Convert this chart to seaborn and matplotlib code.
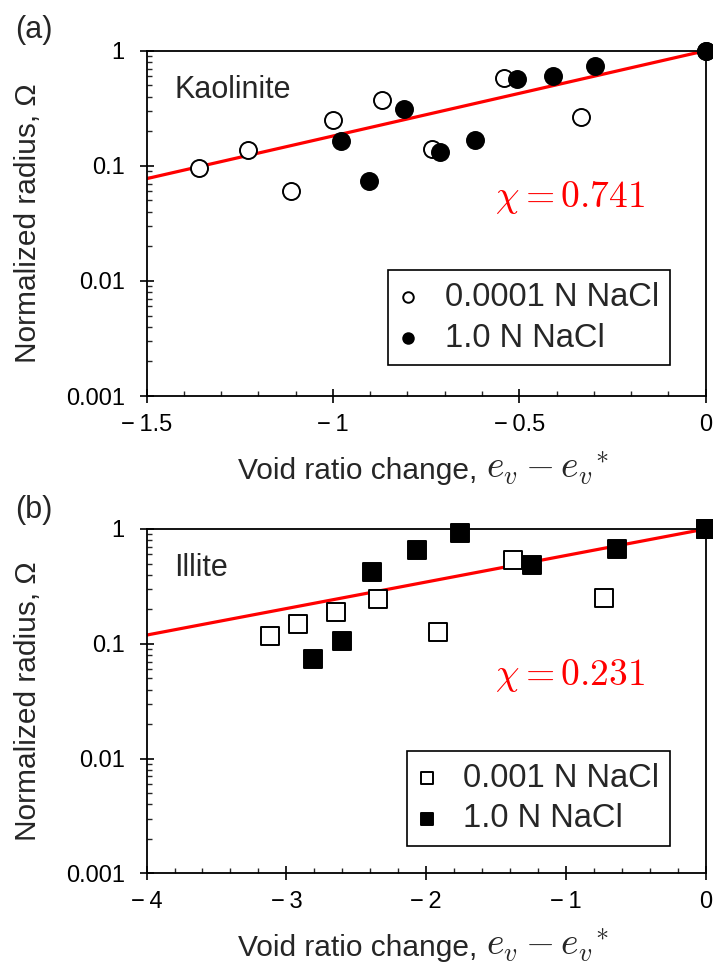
import numpy as np
import pandas as pd
import matplotlib
matplotlib.use("Agg")
import matplotlib.pyplot as plt
import seaborn as sns
from matplotlib.ticker import LogLocator, MultipleLocator, FixedLocator, NullFormatter

sns.set_theme(style="white")
plt.rcParams["font.family"] = ["Liberation Sans", "DejaVu Sans"]
plt.rcParams["mathtext.fontset"] = "cm"

# Kaolinite
kao_low_x = [-1.36, -1.227, -1.113, -1.001, -0.868, -0.733, -0.542, -0.335, 0.0]
kao_low_y = [0.095, 0.138, 0.061, 0.249, 0.375, 0.140, 0.578, 0.263, 1.0]
kao_high_x = [-0.978, -0.903, -0.808, -0.714, -0.620, -0.505, -0.409, -0.297, 0.0]
kao_high_y = [0.163, 0.074, 0.311, 0.132, 0.168, 0.567, 0.602, 0.731, 1.0]
kao_chi = 0.741
kao_xticks = [-1.5, -1.0, -0.5, 0.0]
kao_xtick_labels = ["\u2212\u20091.5", "\u2212\u20091", "\u2212\u20090.5", "0"]

# Illite
ill_low_x = [-3.117, -2.913, -2.646, -2.342, -1.915, -1.378, -0.728, 0.0]
ill_low_y = [0.118, 0.149, 0.190, 0.248, 0.126, 0.532, 0.252, 1.0]
ill_high_x = [-2.806, -2.601, -2.389, -2.064, -1.76, -1.245, -0.634, 0.0]
ill_high_y = [0.0737, 0.105, 0.422, 0.650, 0.918, 0.482, 0.663, 1.0]
ill_chi = 0.231
ill_xticks = [-4, -3, -2, -1, 0]
ill_xtick_labels = ["\u2212\u20094", "\u2212\u20093", "\u2212\u20092", "\u2212\u20091", "0"]

y_ticks = [0.001, 0.01, 0.1, 1]
y_tick_labels = ["0.001", "0.01", "0.1", "1"]

x_label_text = "Void ratio change,"
x_label_math = r"$e_v - {e_v}^{*}$"

fig = plt.figure(figsize=(7.13, 9.66), dpi=100)
ax_a = fig.add_axes([0.2056, 0.590, 0.784, 0.3575])
ax_b = fig.add_axes([0.2056, 0.0958, 0.784, 0.3566])

LABEL_X = 0.1635
LABEL_BASE = -0.239


def draw_panel(ax, lx, ly, hx, hy, chi, xticks, xlabels, xminor, marker,
               mk_size, low_label, high_label, name, legend_y):
    xmin = xticks[0]
    fit = pd.DataFrame({"x": [xmin, 0.0]})
    fit["y"] = 10 ** (chi * fit["x"])
    sns.lineplot(data=fit, x="x", y="y", ax=ax, color="#ff0000", lw=2.3,
                 zorder=2)
    low = pd.DataFrame({"x": lx, "y": ly})
    high = pd.DataFrame({"x": hx, "y": hy})
    sns.scatterplot(data=low, x="x", y="y", ax=ax, marker=marker, s=mk_size,
                    facecolor="white", edgecolor="black", linewidth=1.4,
                    zorder=3, clip_on=False, label=low_label)
    sns.scatterplot(data=high, x="x", y="y", ax=ax, marker=marker, s=mk_size,
                    facecolor="black", edgecolor="black", linewidth=1.4,
                    zorder=4, clip_on=False, label=high_label)
    ax.set_yscale("log")
    ax.set_xticks(xticks)
    ax.set_xticklabels(xlabels)
    ax.xaxis.set_minor_locator(MultipleLocator(xminor))
    ax.yaxis.set_major_locator(FixedLocator(y_ticks))
    ax.set_yticklabels(y_tick_labels)
    ax.yaxis.set_minor_locator(LogLocator(base=10, subs=np.arange(2, 10)))
    ax.yaxis.set_minor_formatter(NullFormatter())
    ax.set_xlim(xmin, 0)
    ax.set_ylim(0.001, 1)
    ax.tick_params(which="major", direction="inout", length=9.5, width=1.2,
                   labelsize=17, colors="black",
                   bottom=True, left=True, top=False, right=False)
    ax.tick_params(axis="x", which="major", pad=8)
    ax.tick_params(axis="y", which="major", pad=11)
    ax.tick_params(which="minor", direction="in", length=3.8, width=1.0,
                   bottom=True, left=True, top=False, right=False)
    for sp in ax.spines.values():
        sp.set_color("black")
        sp.set_linewidth(1.3)
    ax.set_xlabel(x_label_text, fontsize=21.5, ha="left", va="baseline")
    ax.xaxis.set_label_coords(LABEL_X, LABEL_BASE)
    ax.set_ylabel("Normalized radius, Ω", fontsize=21.5)
    ax.yaxis.set_label_coords(-0.187, 0.5)
    ax.text(0.05, 0.886, name, transform=ax.transAxes, fontsize=22,
            ha="left", va="center")
    ax.text(0.757, 0.576, r"$\chi = %.3f$" % chi, transform=ax.transAxes,
            fontsize=27, color="#ff0000", ha="center", va="center")
    leg = ax.legend(loc="lower right", bbox_to_anchor=(0.9365, legend_y),
                    fontsize=23.5, frameon=True, fancybox=False,
                    edgecolor="black", framealpha=1, markerscale=0.62,
                    handletextpad=0.84, borderpad=0.35, labelspacing=0.3,
                    handlelength=0.53, borderaxespad=0)
    leg.get_frame().set_linewidth(1.2)
    ax.grid(False)


draw_panel(ax_a, kao_low_x, kao_low_y, kao_high_x, kao_high_y, kao_chi,
           kao_xticks, kao_xtick_labels, 0.1, "o", 150,
           "0.0001 N NaCl", "1.0 N NaCl", "Kaolinite", 0.09)
draw_panel(ax_b, ill_low_x, ill_low_y, ill_high_x, ill_high_y, ill_chi,
           ill_xticks, ill_xtick_labels, 0.2, "s", 170,
           "0.001 N NaCl", "1.0 N NaCl", "Illite", 0.08)

# Math part of the x label follows the plain-text part, in a larger size
fig.canvas.draw()
renderer = fig.canvas.get_renderer()
for ax in (ax_a, ax_b):
    bb = ax.xaxis.label.get_window_extent(renderer)
    x_after = ax.transAxes.inverted().transform((bb.x1 + 9, 0))[0]
    ax.text(x_after, LABEL_BASE, x_label_math, transform=ax.transAxes,
            fontsize=27, ha="left", va="baseline", clip_on=False)

fig.text(0.021, 0.969, "(a)", fontsize=22, ha="left", va="center")
fig.text(0.021, 0.472, "(b)", fontsize=22, ha="left", va="center")

fig.savefig("out.png", dpi=100)
